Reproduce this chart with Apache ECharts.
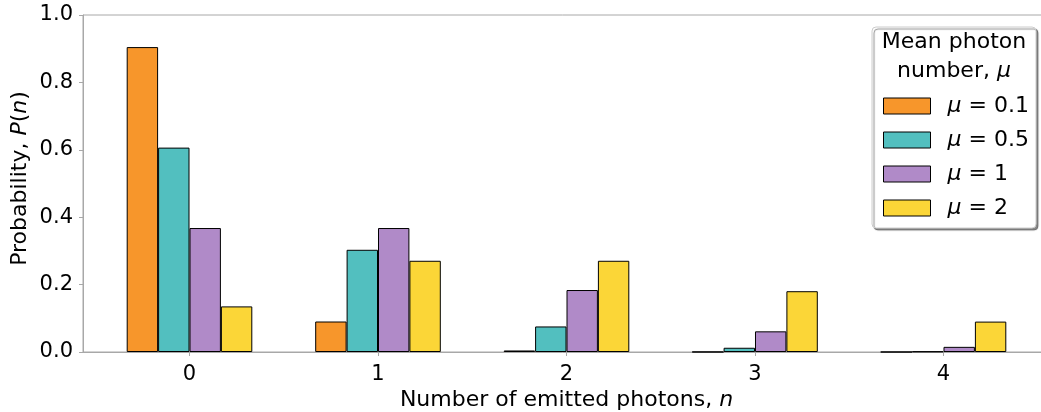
<!DOCTYPE html>
<html>
<head>
<meta charset="utf-8">
<script src="https://cdn.jsdelivr.net/npm/echarts@6/dist/echarts.min.js"></script>
<style>
  html, body { margin: 0; padding: 0; background: #fff; overflow: hidden; }
  #chart { width: 1041px; height: 412px; }
</style>
</head>
<body>
<div id="chart"></div>
<script>
// Photon-number probabilities P(n) for a few mean photon numbers
const photonCounts = [0, 1, 2, 3, 4];
const mu01 = [0.9048, 0.0905, 0.0045, 0.0002, 0.000004];
const mu05 = [0.6065, 0.3033, 0.0758, 0.0126, 0.0016];
const mu1  = [0.3679, 0.3679, 0.1839, 0.0613, 0.0153];
const mu2  = [0.1353, 0.2707, 0.2707, 0.1804, 0.0902];
const seriesNames = ['0.1', '0.5', '1', '2'];

const colors = ['#F7962B', '#52BFBF', '#B08AC8', '#FBD637'];
const FONT = 'DejaVu Sans';
const axisGray = '#a8a8a8';

const allSeries = [mu01, mu05, mu1, mu2];

const chart = echarts.init(document.getElementById('chart'), null, { renderer: 'canvas' });

const option = {
  animation: false,
  textStyle: { fontFamily: FONT, color: '#000' },
  grid: {
    left: 83, top: 15, width: 967, height: 337,
    outerBoundsMode: 'none',
    containLabel: false,
    show: true, borderColor: axisGray, borderWidth: 1, backgroundColor: 'transparent'
  },
  xAxis: {
    type: 'value',
    min: -0.565, max: 4.565,
    name: '{n|Number of emitted photons, }{i|n}',
    nameLocation: 'middle',
    nameGap: 37,
    nameMoveOverlap: false,
    nameTextStyle: {
      rich: {
        n: { fontFamily: FONT, fontSize: 22, color: '#000' },
        i: { fontFamily: FONT, fontSize: 22, fontStyle: 'italic', color: '#000' }
      }
    },
    axisLine: { show: true, onZero: false, lineStyle: { color: axisGray, width: 1 } },
    axisTick: { show: true, length: 4, customValues: photonCounts, lineStyle: { color: axisGray } },
    axisLabel: { show: true, customValues: photonCounts, margin: 12, fontSize: 21, fontFamily: FONT, color: '#000' },
    splitLine: { show: false }
  },
  yAxis: {
    type: 'value',
    min: 0, max: 1.0, interval: 0.2,
    name: '{n|Probability, }{i|P}{n|(}{i|n}{n|)}',
    nameLocation: 'middle',
    nameGap: 52,
    nameMoveOverlap: false,
    nameRotate: 90,
    nameTextStyle: {
      padding: [0, 0, 0, 10],
      rich: {
        n: { fontFamily: FONT, fontSize: 22, color: '#000' },
        i: { fontFamily: FONT, fontSize: 22, fontStyle: 'italic', color: '#000' }
      }
    },
    axisLine: { show: true, onZero: false, lineStyle: { color: axisGray, width: 1 } },
    axisTick: { show: true, length: 4, lineStyle: { color: axisGray } },
    axisLabel: {
      margin: 10, fontSize: 21, fontFamily: FONT, color: '#000',
      formatter: v => v.toFixed(1)
    },
    splitLine: { show: false }
  },
  legend: {
    orient: 'vertical',
    left: 883, top: 95,
    padding: 0,
    icon: 'rect',
    itemWidth: 47, itemHeight: 16,
    itemGap: 12,
    z: 10,
    data: seriesNames.map(s => 'μ = ' + s),
    formatter: name => '{i|μ}{n|' + name.slice(1) + '}',
    textStyle: {
      padding: [0, 0, 0, 12],
      lineHeight: 22,
      rich: {
        n: { fontFamily: FONT, fontSize: 22, color: '#000', lineHeight: 22 },
        i: { fontFamily: FONT, fontSize: 22, fontStyle: 'italic', color: '#000', lineHeight: 22 }
      }
    },
    itemStyle: { borderColor: '#000', borderWidth: 1 }
  },
  graphic: [
    {
      type: 'rect', z: 5,
      shape: { x: 872, y: 27, width: 164, height: 201, r: 4 },
      style: {
        fill: '#fff', stroke: '#cccccc', lineWidth: 1,
        shadowColor: 'rgba(0,0,0,0.45)', shadowOffsetX: 2, shadowOffsetY: 2, shadowBlur: 1
      }
    },
    {
      type: 'text', z: 6,
      x: 954, y: 28,
      style: {
        text: '{n|Mean photon}\n{n|number, }{i|μ}',
        align: 'center',
        rich: {
          n: { fontFamily: FONT, fontSize: 22, color: '#000', lineHeight: 29 },
          i: { fontFamily: FONT, fontSize: 22, fontStyle: 'italic', color: '#000', lineHeight: 29 }
        }
      }
    }
  ],
  series: allSeries.map((vals, k) => ({
    name: 'μ = ' + seriesNames[k],
    type: 'bar',
    barWidth: 31.4,
    barGap: '0%',
    itemStyle: { color: colors[k], borderColor: '#000', borderWidth: 1 },
    data: photonCounts.map((n, i) => [n, vals[i]])
  }))
};

chart.setOption(option);
</script>
</body>
</html>
